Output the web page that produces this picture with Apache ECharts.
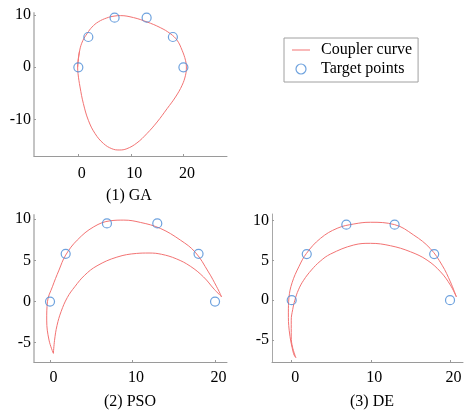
<!DOCTYPE html>
<html>
<head>
<meta charset="utf-8">
<script src="https://cdn.jsdelivr.net/npm/echarts@6/dist/echarts.min.js"></script>
<style>
html,body{margin:0;padding:0;background:#fff;}
#chart{width:465px;height:412px;}
</style>
</head>
<body>
<div id="chart"></div>
<script>
// Target points (same in all three panels)
const targetX = [0, 1.9, 6.9, 13, 18, 20];
const targetY = [0, 5.8, 9.5, 9.5, 5.8, 0];

// (1) GA coupler curve (closed loop)
const gaX = [-0.13, 0.25, 0.85, 1.7, 2.6, 3.8, 5.4, 6.8, 8.0, 10.5, 13.06, 15.6, 17.5, 18.8, 19.75, 20.4, 20.57, 20.4, 19.75, 18.5, 16.9, 15.0, 13.06, 11.15, 9.24, 7.77, 6.37, 4.78, 3.18, 1.91, 0.96, 0.32, -0.06, -0.13, 0.25];
const gaY = [0.06, 3.2, 5.1, 6.5, 7.7, 8.7, 9.45, 9.8, 9.9, 9.52, 8.69, 7.6, 6.45, 5.18, 3.26, 1.34, 0.06, -1.53, -3.45, -5.69, -7.92, -10.48, -12.7, -14.5, -15.6, -15.85, -15.6, -14.6, -12.7, -10.16, -6.96, -3.77, -1.21, 0.06, 3.2];

// (2) PSO coupler curve: outer and inner branches
const psoOuterX = [0.41, -0.12, -0.4, -0.31, 0.29, 1.09, 1.9, 3.3, 5.31, 7.33, 8.94, 10.95, 13.37, 15.8, 17.6, 19.2, 20.2, 20.8];
const psoOuterY = [-6.29, -4.68, -2.25, -0.02, 1.8, 3.83, 5.65, 7.47, 9.09, 9.82, 9.9, 9.62, 8.89, 7.47, 6.0, 3.6, 1.8, 0.58];
const psoInnerX = [0.41, 0.55, 0.85, 1.35, 2.1, 3.0, 4.2, 5.7, 8.1, 10.5, 12.0, 13.5, 15.3, 17.0, 18.6, 19.9, 20.8];
const psoInnerY = [-6.29, -4.7, -2.9, -1.2, 0.5, 1.8, 3.2, 4.35, 5.4, 5.85, 5.9, 5.75, 5.2, 4.3, 3.0, 1.5, 0.58];

// (3) DE coupler curve: outer and inner branches
const deOuterX = [0.52, 0.23, -0.32, -0.42, -0.35, 0.05, 0.9, 1.87, 3.64, 5.74, 7.84, 9.95, 13.0, 15.4, 17.5, 19.0, 20.05, 20.8];
const deOuterY = [-7.23, -6.72, -3.78, -1.6, 0.3, 2.2, 4.2, 5.89, 7.78, 9.04, 9.58, 9.8, 9.5, 8.2, 6.5, 4.4, 2.3, 0.42];
const deInnerX = [0.52, 0.1, -0.06, -0.06, 0.12, 0.4, 0.85, 1.5, 2.5, 3.6, 4.9, 7.84, 9.95, 12.47, 15.0, 17.1, 18.8, 20.05, 20.8];
const deInnerY = [-7.23, -5.9, -4.63, -2.52, -1.2, 0, 1.3, 2.5, 3.8, 4.9, 5.8, 6.94, 7.15, 6.85, 6.09, 5.04, 3.57, 1.89, 0.42];

// Tick values
const ticksX = [0, 10, 20];
const ticksY1 = [-10, 0, 10];
const ticksY23 = [-5, 0, 5, 10];

const panelTitles = ['(1) GA', '(2) PSO', '(3) DE'];
const curveName = 'Coupler curve';
const pointsName = 'Target points';

const FONT = 'Liberation Serif';
const RED = '#f37373';
const BLUE = '#4a8bd6';

function zip(xs, ys) { return xs.map((x, i) => [x, ys[i]]); }

function xAxisDef(gi, min, max, margin) {
  return {
    type: 'value', gridIndex: gi, min: min, max: max,
    splitLine: { show: false },
    axisLine: { show: true, onZero: false, lineStyle: { color: '#9a9a9a', width: 1 } },
    axisTick: { show: true, inside: true, length: 2, customValues: ticksX, lineStyle: { color: '#9a9a9a' } },
    axisLabel: { customValues: ticksX, margin: margin, color: '#000', fontFamily: FONT, fontSize: 16, padding: [0, 0, 0, 7] }
  };
}
function yAxisDef(gi, min, max, ticks, lineColor, lineWidth) {
  return {
    type: 'value', gridIndex: gi, min: min, max: max,
    splitLine: { show: false },
    axisLine: { show: true, onZero: false, lineStyle: { color: lineColor, width: lineWidth } },
    axisTick: { show: true, inside: true, length: 2, customValues: ticks, lineStyle: { color: '#9a9a9a' } },
    axisLabel: { customValues: ticks, margin: 3, color: '#000', fontFamily: FONT, fontSize: 16 }
  };
}
function lineSeries(idx, xs, ys) {
  return {
    name: curveName, type: 'line', xAxisIndex: idx, yAxisIndex: idx,
    data: zip(xs, ys), symbol: 'none', showSymbol: false, smooth: 0.4,
    lineStyle: { color: RED, width: 1 }, itemStyle: { color: RED },
    silent: true, animation: false, z: 2
  };
}
function scatterSeries(idx) {
  return {
    name: pointsName, type: 'scatter', xAxisIndex: idx, yAxisIndex: idx,
    data: zip(targetX, targetY), symbol: 'circle', symbolSize: 9,
    itemStyle: { color: 'rgba(0,0,0,0)', borderColor: BLUE, borderWidth: 1.2 },
    silent: true, animation: false, z: 3
  };
}

const titleStyle = { fontFamily: FONT, fontSize: 16, fontWeight: 'normal', color: '#000' };

const chart = echarts.init(document.getElementById('chart'), null, { renderer: 'canvas' });
chart.setOption({
  animation: false,
  backgroundColor: '#fff',
  grid: [
    { left: 34, top: 13, width: 193, height: 143 },
    { left: 34, top: 215, width: 193, height: 147 },
    { left: 272, top: 214, width: 191, height: 148 }
  ],
  xAxis: [
    xAxisDef(0, -8.44, 28.3, 10),
    xAxisDef(1, -1.94, 21.45, 8),
    xAxisDef(2, -2.49, 21.64, 8)
  ],
  yAxis: [
    yAxisDef(0, -17.0, 10.4, ticksY1, '#c4c4c4', 2),
    yAxisDef(1, -7.34, 10.52, ticksY23, '#c4c4c4', 2),
    yAxisDef(2, -7.78, 10.84, ticksY23, '#a8a8a8', 1)
  ],
  title: [
    { text: panelTitles[0], left: 129, top: 188, textAlign: 'center', padding: 0, textStyle: titleStyle },
    { text: panelTitles[1], left: 130, top: 394, textAlign: 'center', padding: 0, textStyle: titleStyle },
    { text: panelTitles[2], left: 372, top: 394, textAlign: 'center', padding: 0, textStyle: titleStyle }
  ],
  legend: {
    left: 284, top: 38, orient: 'vertical',
    padding: [4, 6, 5, 8], itemGap: 3, itemWidth: 18, itemHeight: 10,
    borderColor: '#a0a0a0', borderWidth: 1,
    selectedMode: false, symbolKeepAspect: true,
    textStyle: { fontFamily: FONT, fontSize: 16, color: '#000', lineHeight: 16, padding: [0, 0, 0, 6] },
    data: [
      { name: curveName, icon: 'path://M0,0 L18,0 L18,1 L0,1 Z', itemStyle: { color: RED, borderWidth: 0 } },
      { name: pointsName, icon: 'circle', itemStyle: { color: 'rgba(0,0,0,0)', borderColor: BLUE, borderWidth: 1.2 } }
    ]
  },
  series: [
    lineSeries(0, gaX, gaY),
    lineSeries(1, psoOuterX, psoOuterY),
    lineSeries(1, psoInnerX, psoInnerY),
    lineSeries(2, deOuterX, deOuterY),
    lineSeries(2, deInnerX, deInnerY),
    scatterSeries(0),
    scatterSeries(1),
    scatterSeries(2)
  ]
});
</script>
</body>
</html>
